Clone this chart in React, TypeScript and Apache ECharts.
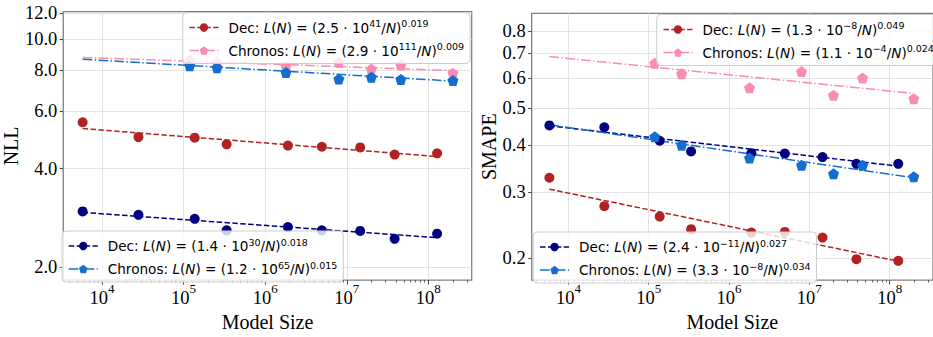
import React, { useEffect, useRef } from 'react';
import * as echarts from 'echarts';

// ---------- data (model sizes = number of parameters) ----------
const decSizes = [5800, 28000, 137000, 337000, 1.9e6, 4.95e6, 1.46e7, 3.86e7, 1.28e8];
const chronosSizes = [1.19e5, 2.57e5, 1.8e6, 8.0e6, 2.0e7, 4.6e7, 2.0e8];
const decFitSizes = [5800, 1.28e8];
const chronosFitSizes = [5800, 2.0e8];

// NLL panel
const nllDecRed = [5.55, 5.0, 4.98, 4.75, 4.71, 4.67, 4.65, 4.42, 4.46];
const nllChronosPink = [8.6, 8.47, 8.24, 8.47, 8.08, 8.31, 7.85];
const nllDecNavy = [2.96, 2.89, 2.81, 2.59, 2.65, 2.59, 2.58, 2.44, 2.53];
const nllChronosBlue = [8.27, 8.16, 7.88, 7.53, 7.63, 7.51, 7.45];
const nllFitRed = [5.31, 4.36];
const nllFitPink = [8.77, 7.99];
const nllFitNavy = [2.94, 2.46];
const nllFitBlue = [8.66, 7.42];

// SMAPE panel
const smapeDecRed = [0.327, 0.275, 0.258, 0.239, 0.234, 0.235, 0.227, 0.199, 0.197];
const smapeChronosPink = [0.658, 0.617, 0.566, 0.625, 0.541, 0.601, 0.53];
const smapeDecNavy = [0.45, 0.445, 0.41, 0.384, 0.38, 0.379, 0.371, 0.356, 0.356];
const smapeChronosBlue = [0.42, 0.399, 0.369, 0.353, 0.335, 0.353, 0.329];
const smapeFitRed = [0.305, 0.1965];
const smapeFitPink = [0.685, 0.547];
const smapeFitNavy = [0.449, 0.351];
const smapeFitBlue = [0.452, 0.327];

// ticks
const xTickExponents = [4, 5, 6, 7, 8];
const xMinorMultipliers = [2, 3, 4, 5, 6, 7, 8, 9];
const xMinorDecades = [3, 4, 5, 6, 7, 8];
const nllTicks = [2, 4, 6, 8, 10, 12];
const smapeTicks = [0.2, 0.3, 0.4, 0.5, 0.6, 0.7, 0.8];

// legend names
const nRedNll = 'Dec: L(N) = (2.5·10^41/N)^0.019';
const nPinkNll = 'Chronos: L(N) = (2.9·10^111/N)^0.009';
const nNavyNll = 'Dec: L(N) = (1.4·10^30/N)^0.018';
const nBlueNll = 'Chronos: L(N) = (1.2·10^65/N)^0.015';
const nRedSm = 'Dec: L(N) = (1.3·10^−8/N)^0.049';
const nPinkSm = 'Chronos: L(N) = (1.1·10^−4/N)^0.024';
const nNavySm = 'Dec: L(N) = (2.4·10^−11/N)^0.027';
const nBlueSm = 'Chronos: L(N) = (3.3·10^−8/N)^0.034';

const richLegend: Record<string, string> = {
  [nRedNll]: 'Dec: {i|L}({i|N}) = (2.5 · 10{s|41}/{i|N}){s|0.019}',
  [nPinkNll]: 'Chronos: {i|L}({i|N}) = (2.9 · 10{s|111}/{i|N}){s|0.009}',
  [nNavyNll]: 'Dec: {i|L}({i|N}) = (1.4 · 10{s|30}/{i|N}){s|0.018}',
  [nBlueNll]: 'Chronos: {i|L}({i|N}) = (1.2 · 10{s|65}/{i|N}){s|0.015}',
  [nRedSm]: 'Dec: {i|L}({i|N}) = (1.3 · 10{s|−8}/{i|N}){s|0.049}',
  [nPinkSm]: 'Chronos: {i|L}({i|N}) = (1.1 · 10{s|−4}/{i|N}){s|0.024}',
  [nNavySm]: 'Dec: {i|L}({i|N}) = (2.4 · 10{s|−11}/{i|N}){s|0.027}',
  [nBlueSm]: 'Chronos: {i|L}({i|N}) = (3.3 · 10{s|−8}/{i|N}){s|0.034}',
};

// ---------- styling ----------
const RED = '#b22222';
const PINK = '#f98db0';
const NAVY = '#000080';
const BLUE = '#146dd0';
const PENT = 'path://M0,-1L0.951,-0.309L0.588,0.809L-0.588,0.809L-0.951,-0.309Z';
const DASH = [5.5, 2.4];
const DASHDOT = [9.6, 2.4, 1.5, 2.4];
const SERIF = 'Liberation Serif';
const SANS = 'DejaVu Sans';

const lg = Math.log10;
const pts = (xs: number[], ys: number[]) => xs.map((x, i) => [lg(x), lg(ys[i])]);

const majorX = xTickExponents.slice();
const minorX: number[] = [];
xMinorDecades.forEach((d) => xMinorMultipliers.forEach((k) => minorX.push(lg(k * Math.pow(10, d)))));

function xAxes(gridIndex: number, min: number, max: number) {
  return [
    {
      type: 'value', gridIndex, min, max, position: 'bottom',
      axisLine: { show: false },
      axisTick: { show: true, customValues: majorX, length: 4.5, lineStyle: { color: '#444', width: 1 } },
      axisLabel: {
        customValues: majorX, margin: 1.5, color: '#000',
        formatter: (v: number) => `{a|10}{b|${Math.round(v)}}`,
        rich: {
          a: { fontFamily: SERIF, fontSize: 18.5, lineHeight: 32, color: '#000' },
          b: { fontFamily: SERIF, fontSize: 13, lineHeight: 12, verticalAlign: 'top', color: '#000' },
        },
      },
      splitLine: { show: true, lineStyle: { color: '#dcdcdc', width: 0.8 } },
      name: 'Model Size', nameLocation: 'middle', nameGap: 24.5,
      nameTextStyle: { fontFamily: SERIF, fontSize: 20, color: '#000' },
    },
    {
      type: 'value', gridIndex, min, max, position: 'bottom',
      axisLine: { show: false },
      axisTick: { show: true, customValues: minorX.filter((v) => v > min && v < max), length: 2.5, lineStyle: { color: '#444', width: 0.8 } },
      axisLabel: { show: false },
      splitLine: { show: false },
    },
  ];
}

function yAxis(gridIndex: number, min: number, max: number, ticks: number[], name: string, nameGap: number) {
  const vals = ticks.map(lg);
  return {
    type: 'value', gridIndex, min, max,
    axisLine: { show: false },
    axisTick: { show: true, customValues: vals, length: 3.5, lineStyle: { color: '#444', width: 1 } },
    axisLabel: {
      customValues: vals, margin: 6, color: '#000', fontFamily: SERIF, fontSize: 18.5,
      formatter: (v: number) => Math.pow(10, v).toFixed(1),
    },
    splitLine: { show: true, lineStyle: { color: '#dcdcdc', width: 0.8 } },
    name, nameLocation: 'middle', nameGap,
    nameTextStyle: { fontFamily: SERIF, fontSize: 20, color: '#000' },
  };
}

function legend(left: number, top: number, data: string[]) {
  return {
    orient: 'vertical', left, top, data,
    itemWidth: 29, itemHeight: 10.5, itemGap: 5,
    padding: [6, 6, 4, 6],
    backgroundColor: 'rgba(255,255,255,0.8)',
    borderColor: '#cccccc', borderWidth: 1, borderRadius: 4,
    selectedMode: false,
    lineStyle: { width: 1.5 },
    formatter: (name: string) => richLegend[name] || name,
    textStyle: {
      fontFamily: SANS, fontSize: 13.6, color: '#000', lineHeight: 18, padding: [0, 0, 0, 5],
      rich: {
        i: { fontFamily: SANS, fontStyle: 'italic', fontSize: 13.6, lineHeight: 18, color: '#000' },
        s: { fontFamily: SANS, fontSize: 9.5, lineHeight: 10, verticalAlign: 'top', color: '#000' },
      },
    },
  };
}

function fitLine(name: string, xi: number, yi: number, xs: number[], ys: number[], color: string, dash: number[], symbol: string) {
  return {
    type: 'line', name, xAxisIndex: xi, yAxisIndex: yi, data: pts(xs, ys),
    showSymbol: false, symbol, symbolSize: 10, silent: true, z: 2,
    lineStyle: { color, width: 1.5, type: dash },
    itemStyle: { color },
    emphasis: { disabled: true },
  };
}

function dots(name: string, xi: number, yi: number, xs: number[], ys: number[], color: string, symbol: string, size: number) {
  return {
    type: 'scatter', name, xAxisIndex: xi, yAxisIndex: yi, data: pts(xs, ys),
    symbol, symbolSize: size, silent: true, z: 3,
    itemStyle: { color, opacity: 1 },
    emphasis: { disabled: true },
  };
}

const option = {
  animation: false,
  backgroundColor: '#ffffff',
  grid: [
    { left: 60, top: 11.7, width: 411.7, height: 273.3, show: true, borderColor: '#808080', borderWidth: 1.3, backgroundColor: 'transparent' },
    { left: 531.7, top: 13.3, width: 411, height: 271.7, show: true, borderColor: '#808080', borderWidth: 1.3, backgroundColor: 'transparent' },
  ],
  xAxis: [...xAxes(0, 3.526, 8.531), ...xAxes(1, 3.543, 8.54)],
  yAxis: [
    yAxis(0, 0.261, 1.083, nllTicks, 'NLL', 36),
    yAxis(1, -0.7566, -0.0496, smapeTicks, 'SMAPE', 30),
  ],
  legend: [
    legend(182.7, 12.5, [nRedNll, nPinkNll]),
    legend(62, 231, [nNavyNll, nBlueNll]),
    legend(656.7, 14.5, [nRedSm, nPinkSm]),
    legend(533.3, 232, [nNavySm, nBlueSm]),
  ],
  series: [
    fitLine(nRedNll, 0, 0, decFitSizes, nllFitRed, RED, DASH, 'circle'),
    fitLine(nPinkNll, 0, 0, chronosFitSizes, nllFitPink, PINK, DASHDOT, PENT),
    fitLine(nNavyNll, 0, 0, decFitSizes, nllFitNavy, NAVY, DASH, 'circle'),
    fitLine(nBlueNll, 0, 0, chronosFitSizes, nllFitBlue, BLUE, DASHDOT, PENT),
    dots('nll-dec-red', 0, 0, decSizes, nllDecRed, RED, 'circle', 10),
    dots('nll-chronos-pink', 0, 0, chronosSizes, nllChronosPink, PINK, PENT, 11),
    dots('nll-dec-navy', 0, 0, decSizes, nllDecNavy, NAVY, 'circle', 10),
    dots('nll-chronos-blue', 0, 0, chronosSizes, nllChronosBlue, BLUE, PENT, 11),

    fitLine(nRedSm, 2, 1, decFitSizes, smapeFitRed, RED, DASH, 'circle'),
    fitLine(nPinkSm, 2, 1, chronosFitSizes, smapeFitPink, PINK, DASHDOT, PENT),
    fitLine(nNavySm, 2, 1, decFitSizes, smapeFitNavy, NAVY, DASH, 'circle'),
    fitLine(nBlueSm, 2, 1, chronosFitSizes, smapeFitBlue, BLUE, DASHDOT, PENT),
    dots('sm-dec-red', 2, 1, decSizes, smapeDecRed, RED, 'circle', 10),
    dots('sm-chronos-pink', 2, 1, chronosSizes, smapeChronosPink, PINK, PENT, 11),
    dots('sm-dec-navy', 2, 1, decSizes, smapeDecNavy, NAVY, 'circle', 10),
    dots('sm-chronos-blue', 2, 1, chronosSizes, smapeChronosBlue, BLUE, PENT, 11),
  ],
};

export default function App() {
  const ref = useRef<HTMLDivElement>(null);
  useEffect(() => {
    if (!ref.current) return;
    const chart = echarts.init(ref.current, null, { renderer: 'svg' });
    chart.setOption(option as any);
    return () => chart.dispose();
  }, []);
  return (
    <div
      ref={ref}
      style={{ position: 'fixed', left: 0, top: 0, width: 933, height: 337, background: '#fff' }}
    />
  );
}
